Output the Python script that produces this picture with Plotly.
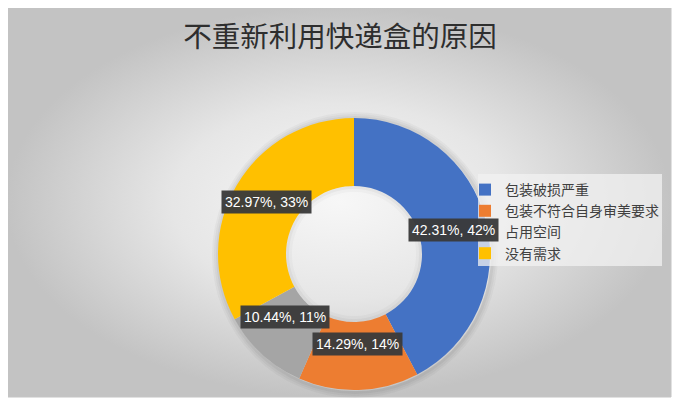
import math
import plotly.graph_objects as go

# data
categories = ["包装破损严重", "包装不符合自身审美要求", "占用空间", "没有需求"]
values = [42.31, 14.29, 10.44, 32.97]
shown_pct = [42, 14, 11, 33]
colors = ["#4472C4", "#ED7D31", "#A5A5A5", "#FFC000"]
title = "不重新利用快递盒的原因"

# the page body has an 8px margin, so work in page pixels and shift
OFF = 8
W, H = 693 - OFF, 400 - OFF


def fx(px):          # page x -> paper x
    return (px - OFF) / W


def fy(py):          # page y (from top) -> paper y
    return 1 - (py - OFF) / H


cx, cy, R = 354, 254, 136   # pie centre and radius in page pixels
hole = 0.5

fig = go.Figure()

# chart area with radial grey gradient
fig.add_trace(go.Scatter(
    x=[6 - OFF, 671 - OFF, 671 - OFF, 6 - OFF, 6 - OFF],
    y=[H - 389, H - 389, H + 2, H + 2, H - 389],
    mode="lines", line=dict(width=1, color="#c4c4c4"),
    fill="toself",
    fillgradient=dict(type="radial",
                      colorscale=[[0, "#f7f7f7"], [0.5, "#e6e6e6"], [1, "#c3c3c3"]]),
    hoverinfo="skip", showlegend=False,
))

# soft shadow round the ring
for k, op in [(7, 0.03), (5, 0.035), (3, 0.045)]:
    r = R + k
    fig.add_trace(go.Pie(
        values=[1], marker=dict(colors=["rgb(0,0,0)"]), opacity=op,
        hole=R / r, textinfo="none", hoverinfo="skip",
        showlegend=False, sort=False,
        domain=dict(x=[fx(cx - r + 1), fx(cx + r + 1)], y=[fy(cy + r + 1), fy(cy - r + 1)]),
    ))

fig.add_trace(go.Pie(
    labels=categories, values=values, hole=hole,
    marker=dict(colors=colors, line=dict(width=0)),
    sort=False, direction="clockwise", rotation=0,
    textinfo="none", hoverinfo="label+value",
    domain=dict(x=[fx(cx - R), fx(cx + R)], y=[fy(cy + R), fy(cy - R)]),
))

# inner shadow of the hole
for k, op in [(6, 0.025), (3, 0.035)]:
    r = R * hole
    fig.add_trace(go.Pie(
        values=[1], marker=dict(colors=["rgb(0,0,0)"]), opacity=op,
        hole=(r - k) / r, textinfo="none", hoverinfo="skip",
        showlegend=False, sort=False,
        domain=dict(x=[fx(cx - r), fx(cx + r)], y=[fy(cy + r), fy(cy - r)]),
    ))

# labels in dark boxes at the middle of the ring
total = sum(values)
acc = 0
rm = R * (1 + hole) / 2
for v, p in zip(values, shown_pct):
    mid = (acc + v / 2) / total * 2 * math.pi
    acc += v
    fig.add_annotation(
        x=fx(cx + rm * math.sin(mid)), y=fy(cy - rm * math.cos(mid)),
        xref="paper", yref="paper",
        text=f"{v:.2f}%, {p}%", showarrow=False,
        font=dict(family="Liberation Sans", size=14, color="white"),
        bgcolor="rgba(58,58,58,0.96)", borderpad=3,
    )

# legend panel
fig.add_shape(type="rect", xref="paper", yref="paper",
              x0=fx(478), x1=fx(662), y0=fy(266), y1=fy(174),
              fillcolor="rgba(242,242,242,0.75)", line=dict(width=0), layer="above")

fig.update_layout(
    width=W, height=H,
    margin=dict(l=0, r=0, t=0, b=0),
    paper_bgcolor="white", plot_bgcolor="rgba(0,0,0,0)",
    xaxis=dict(range=[0, W], visible=False, fixedrange=True),
    yaxis=dict(range=[0, H], visible=False, fixedrange=True),
    title=dict(text=title, x=fx(340), xanchor="center", y=fy(37), yanchor="middle",
               font=dict(family="Noto Sans CJK SC", size=28.5, color="#2e2e2e")),
    legend=dict(x=fx(465), y=fy(174), xanchor="left", yanchor="top",
                bgcolor="rgba(0,0,0,0)", itemwidth=30,
                font=dict(family="Noto Sans CJK SC", size=14, color="#404040")),
)

fig.write_html("out.html")
